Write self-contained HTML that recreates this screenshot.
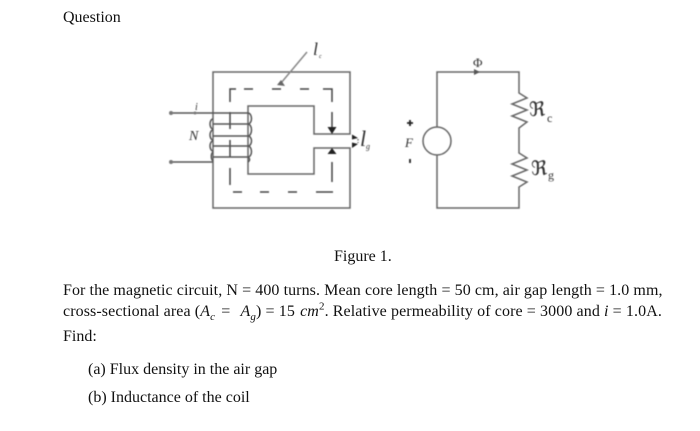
<!DOCTYPE html>
<html>
<head>
<meta charset="utf-8">
<style>
html,body{margin:0;padding:0;background:#fff}
#p{position:relative;width:700px;height:431px;overflow:hidden;background:#fff;font-family:"Liberation Serif",serif;color:#111}
.t{position:absolute;white-space:nowrap;font-size:16px;line-height:18px;filter:blur(.35px)}
svg{position:absolute;left:0;top:0;filter:blur(.4px)}
svg text{font-family:"Liberation Serif",serif;fill:#333}
sub,sup{font-size:11px;line-height:0}
</style>
</head>
<body>
<div id="p">
<svg width="700" height="431" viewBox="0 0 700 431" fill="none" stroke="#666" stroke-width="1.5">
  <!-- core -->
  <path d="M350 134V72H213V208H350V148H314V174H248V106H314V134Z"/>
  <!-- dashed path -->
  <g stroke="#444" stroke-width="1.5">
    <path d="M230 102V89H236"/>
    <path d="M244 89H253M272 89H281M300 89H309M323 89H332V102"/>
    <path d="M332 112V130M332 162V182"/>
    <path d="M230 112V129M230 140V157M230 168V185"/>
    <path d="M233 192H242M260 192H269M288 192H297M316 192H333"/>
  </g>
  <path d="M327.500 127L336.500 127L332 134Z M327.500 154L336.500 154L332 148Z" fill="#222" stroke="none"/>
  <!-- coil -->
  <path d="M170 113H248M170 162H213M213 124H248M213 136H248M213 146H248M213 157H248" stroke="#555"/>
  <circle cx="171" cy="113" r="2" fill="#777" stroke="none"/><circle cx="171" cy="162" r="2" fill="#777" stroke="none"/><circle cx="195" cy="113" r="1.500" fill="#777" stroke="none"/>
  <path d="M213 119a3 5 0 0 0 0 10M213 130a3 5 0 0 0 0 10M213 141a3 5 0 0 0 0 10M213 152a3 5 0 0 0 0 9M248 113a3.500 5.500 0 0 1 0 11M248 124a3.500 6 0 0 1 0 12M248 136a3.500 5 0 0 1 0 10M248 146a3.500 5.500 0 0 1 0 11M248 157a3.500 3 0 0 1 0 5" stroke="#555"/>
  <!-- leader l_c -->
  <path d="M307 52L281 83" stroke="#888"/>
  <path d="M277 85L285 86L281 80Z" fill="#666" stroke="none"/>
  <!-- gap arrows -->
  <path d="M352 134.500L358 138L352 139.500Z M352 148L358 144L352 142.500Z" fill="#222" stroke="none"/>
  <path d="M358 139V143" stroke-dasharray="1.500 1.500" stroke="#777"/>
  <!-- circuit -->
  <path d="M437 127V72H519V93L527 98L512 104L527 110L512 116L527 122L519 128V153L527 158L512 164L527 170L512 176L527 182L519 187V208H437V155"/>
  <circle cx="437" cy="141" r="14"/>
  <path d="M474 69L480 72L474 75Z" fill="#555" stroke="none"/>
  <path d="M410 120V126M407 123H413M410 159V163" stroke="#222" stroke-width="1.800"/>
  <g stroke="none">
    <text x="313" y="55" font-size="18" font-style="italic">l</text>
    <text x="319" y="58" font-size="6" font-style="italic">c</text>
    <text x="360" y="146" font-size="22" font-style="italic">l</text>
    <text x="366" y="149" font-size="8" font-style="italic">g</text>
    <text x="189" y="140" font-size="14" font-style="italic">N</text>
    <text x="195" y="110" font-size="10" font-style="italic">i</text>
    <text x="405" y="147" font-size="13" font-style="italic">F</text>
    <text x="473" y="67" font-size="13">Φ</text>
    <text x="529" y="116" font-size="20" fill="#333">ℜ</text>
    <text x="547" y="122" font-size="12">c</text>
    <text x="531" y="175" font-size="20" fill="#333">ℜ</text>
    <text x="548" y="179" font-size="12">g</text>
  </g>
</svg>
<div class="t" style="left:63px;top:9px">Question</div>
<div class="t" style="left:334px;top:248px">Figure 1.</div>
<div class="t" style="left:63px;top:282px;letter-spacing:.08px">For the magnetic circuit, N = 400 turns. Mean core length = 50 cm, air gap length = 1.0 mm,</div>
<div class="t" style="left:63px;top:303px;letter-spacing:.1px">cross-sectional area (<i>A<sub>c</sub></i> <span style="margin:0 2px">=</span> &nbsp;<i>A<sub>g</sub></i>) = 15 <i style="margin-left:1px">cm</i><sup>2</sup>. Relative permeability of core = 3000 and <i>i</i> = 1.0A.</div>
<div class="t" style="left:63px;top:328px">Find:</div>
<div class="t" style="left:88px;top:361px">(a) Flux density in the air gap</div>
<div class="t" style="left:88px;top:389px">(b) Inductance of the coil</div>
</div>
</body>
</html>
